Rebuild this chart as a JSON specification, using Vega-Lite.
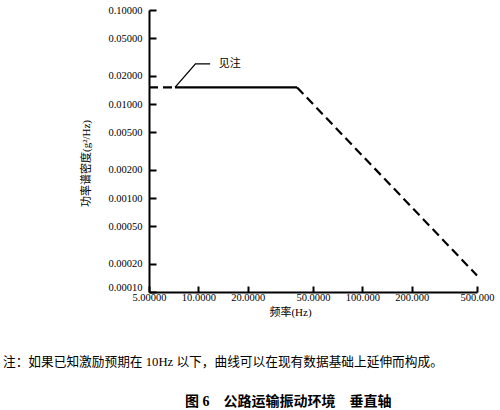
{
  "$schema": "https://vega.github.io/schema/vega-lite/v6.json",
  "autosize": "none",
  "padding": {"left": 149, "top": 10, "right": 23, "bottom": 118},
  "width": 328,
  "height": 282,
  "background": "white",
  "config": {
    "view": {"stroke": null},
    "font": "'Liberation Serif', 'Noto Sans CJK SC'",
    "axis": {
      "domainColor": "black", "domainWidth": 2, "tickColor": "black", "tickWidth": 2,
      "labelColor": "black", "labelFont": "'Liberation Serif'", "labelFontSize": 10.5, "labelOverlap": false, "labelFlush": false,
      "titleColor": "black", "titleFont": "'Liberation Serif', 'Noto Sans CJK SC'", "titleFontWeight": "normal", "titleFontSize": 11,
      "grid": false
    }
  },
  "title": {
    "text": "注：如果已知激励预期在 10Hz 以下，曲线可以在现有数据基础上延伸而构成。",
    "subtitle": "\u200b　　　　　　　　　　　　　图 6　公路运输振动环境　垂直轴",
    "orient": "bottom",
    "anchor": "start",
    "frame": "group",
    "dx": -146,
    "offset": 39,
    "font": "'Liberation Serif', 'Noto Sans CJK SC'",
    "fontSize": 12.7,
    "fontWeight": "normal",
    "color": "black",
    "subtitleFont": "'Liberation Serif', 'Noto Sans CJK SC'",
    "subtitleFontSize": 14,
    "subtitleFontWeight": "bold",
    "subtitleColor": "black",
    "subtitlePadding": 26
  },
  "datasets": {
    "psd": [
      {"f": 5, "g": 0.015, "seg": "a", "style": "dashed"},
      {"f": 7.2, "g": 0.015, "seg": "a", "style": "dashed"},
      {"f": 7.2, "g": 0.015, "seg": "b", "style": "solid"},
      {"f": 40, "g": 0.015, "seg": "b", "style": "solid"},
      {"f": 40, "g": 0.015, "seg": "c", "style": "dashed"},
      {"f": 500, "g": 0.00015, "seg": "c", "style": "dashed"}
    ],
    "leader": [
      {"f": 7.2, "g": 0.015},
      {"f": 9.6, "g": 0.0267},
      {"f": 11.8, "g": 0.0267}
    ],
    "label": [
      {"f": 13.3, "g": 0.0267, "text": "见注"}
    ]
  },
  "layer": [
    {
      "data": {"name": "psd"},
      "mark": {"type": "line", "color": "black", "strokeWidth": 2.2},
      "encoding": {
        "x": {
          "field": "f", "type": "quantitative",
          "scale": {"type": "log", "domain": [5, 500], "nice": false},
          "axis": {
            "values": [5, 10, 20, 50, 100, 200, 500], "format": ".6r",
            "tickSize": -6, "labelPadding": 6,
            "title": "频率(Hz)", "titleX": 141, "titleY": 20, "titleBaseline": "middle"
          }
        },
        "y": {
          "field": "g", "type": "quantitative",
          "scale": {"type": "log", "domain": [0.0001, 0.1], "nice": false},
          "axis": {
            "values": [0.1, 0.05, 0.02, 0.01, 0.005, 0.002, 0.001, 0.0005, 0.0002, 0.0001], "format": ".5f",
            "tickSize": -7, "labelPadding": 14,
            "labelBaseline": {"condition": {"test": "datum.value < 0.00015", "value": "bottom"}, "value": "middle"},
            "title": "功率谱密度(g²/Hz)", "titleX": -63, "titleY": 153, "titleAngle": -90, "titleBaseline": "middle", "titleAlign": "center"
          }
        },
        "detail": {"field": "seg"},
        "strokeDash": {
          "field": "style", "type": "nominal",
          "scale": {"domain": ["dashed", "solid"], "range": [[9, 5], [1, 0]]},
          "legend": null
        }
      }
    },
    {
      "data": {"name": "leader"},
      "mark": {"type": "line", "color": "black", "strokeWidth": 1.3},
      "encoding": {
        "x": {"field": "f", "type": "quantitative"},
        "y": {"field": "g", "type": "quantitative"}
      }
    },
    {
      "data": {"name": "label"},
      "mark": {"type": "text", "align": "left", "baseline": "middle", "fontSize": 11, "color": "black", "font": "'Noto Sans CJK SC'"},
      "encoding": {
        "x": {"field": "f", "type": "quantitative"},
        "y": {"field": "g", "type": "quantitative"},
        "text": {"field": "text"}
      }
    }
  ]
}
